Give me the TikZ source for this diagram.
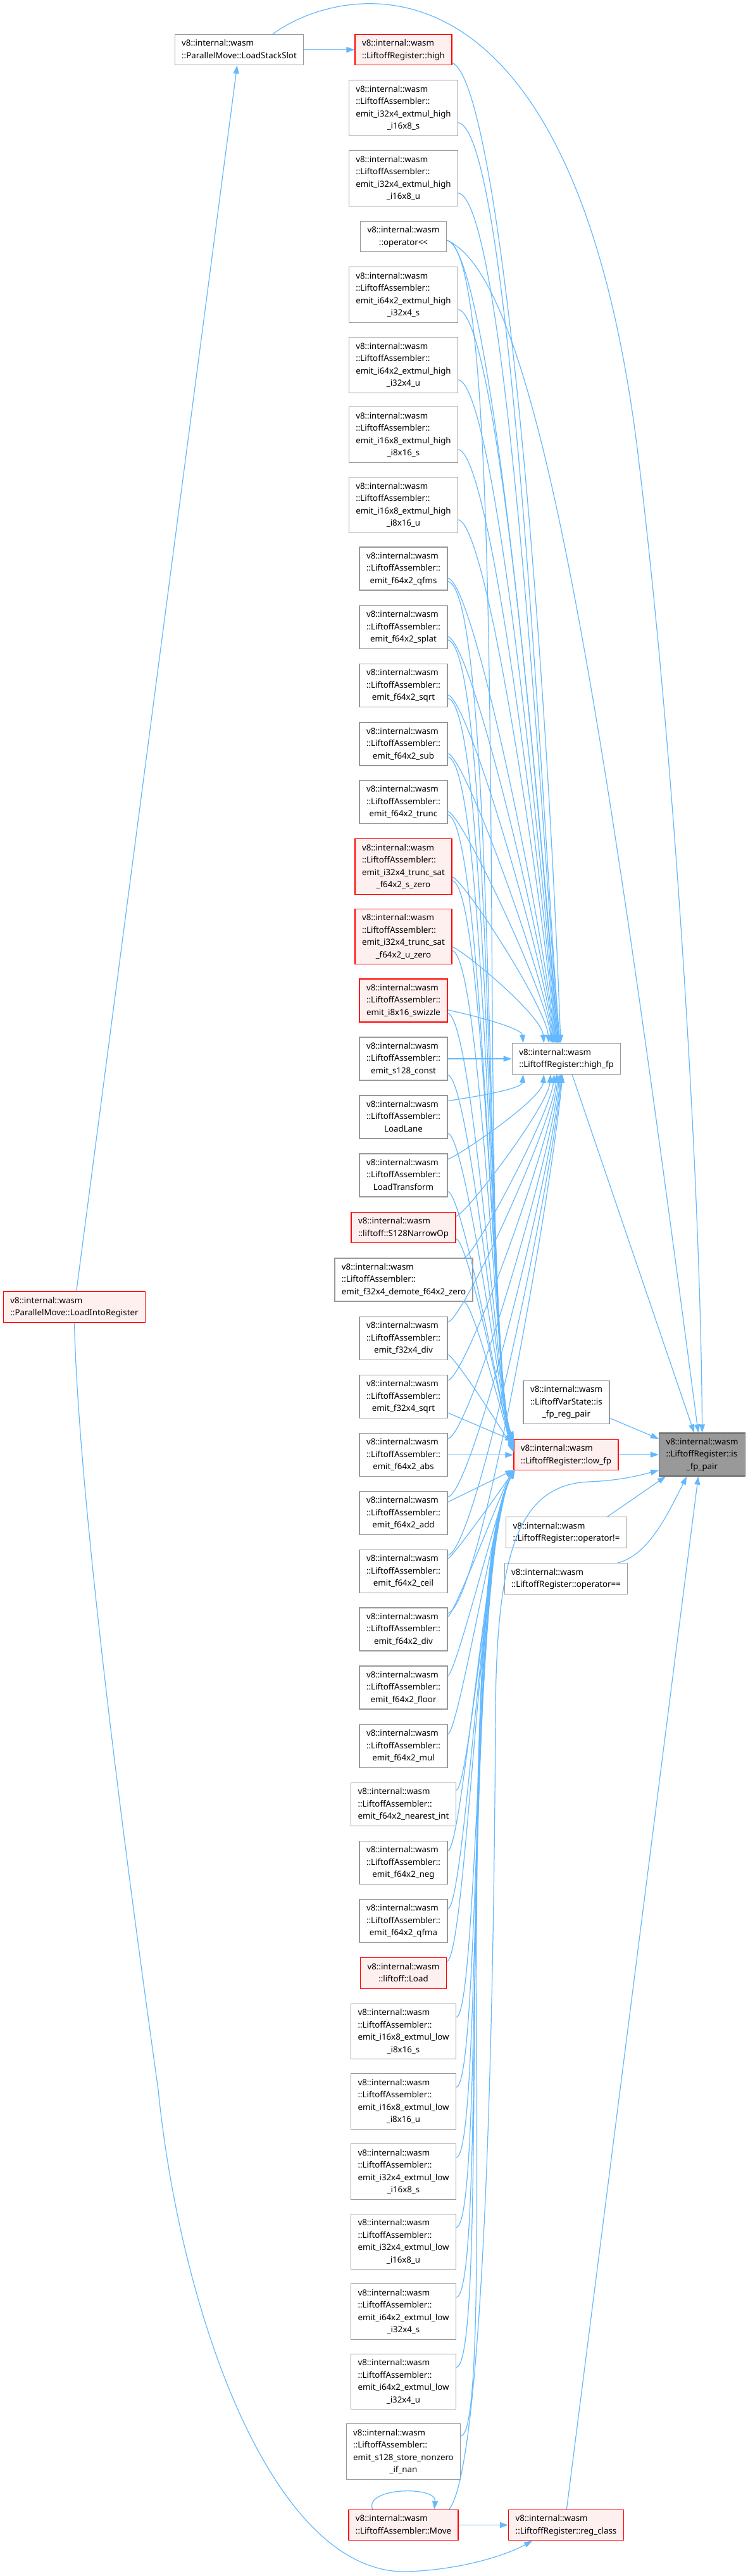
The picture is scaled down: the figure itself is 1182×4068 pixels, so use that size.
\documentclass[tikz,border=0pt]{standalone}
\usepackage{fontspec}
\setmainfont{Noto Sans}
\usepackage{xcolor}
\usepackage{tikz}
\usetikzlibrary{arrows.meta}
\definecolor{dxblue}{HTML}{63B8FF}
\definecolor{dxgray}{HTML}{999999}
\definecolor{dxdark}{HTML}{666666}
\definecolor{dxred}{HTML}{FF0000}
\definecolor{dxpink}{HTML}{FFF0F0}
\newcommand{\dxfont}{\fontsize{13.3}{19.5}\selectfont}
\newcommand{\fnl}[2]{\begin{tabular}{@{}l@{}}#1\\\multicolumn{1}{@{}c@{}}{#2}\end{tabular}}

\begin{document}
\begin{tikzpicture}[
  x=1pt, y=1pt,
  every node/.style={font=\dxfont},
  fn/.style={draw=dxgray, fill=white, line width=1.2pt, inner xsep=11pt, inner ysep=4.75pt},
  fnred/.style={fn, draw=dxred, fill=dxpink},
  fnroot/.style={fn, draw=dxdark, fill=dxgray},
  dep/.style={draw=dxblue, line width=1.2pt, -{Triangle[length=13pt, width=9pt]}},
  godown/.style={to path={.. controls +({0.3*#1},{-0.05*#1}) and +({-0.087*#1},{#1}) .. (\tikztotarget)}},
  godownl/.style={to path={.. controls +({0.63*#1},{-0.11*#1}) and +({-0.364*#1},{#1}) .. (\tikztotarget)}},
  goup/.style={to path={.. controls +({0.3*#1},{0.05*#1}) and +({-0.087*#1},{-#1}) .. (\tikztotarget)}},
  goupl/.style={to path={.. controls +({0.33*#1},{0.06*#1}) and +({-0.577*#1},{-#1}) .. (\tikztotarget)}}
]
  \useasboundingbox (0,0) rectangle (1182,-4068);

  % Colonna sinistra
  \node[fn] (lss) at (378,-78.5) {\fnl{v8::internal::wasm}{::ParallelMove::LoadStackSlot}};
  \node[fnred] (lir) at (117.5,-2064) {\fnl{v8::internal::wasm}{::ParallelMove::LoadIntoRegister}};

  % Chiamanti
  \node[fnred] (high) at (637.5,-78.5) {\fnl{v8::internal::wasm}{::LiftoffRegister::high}};
  \node[fn] (xhi32s) at (637.5,-170.5) {\fnl{v8::internal::wasm\\::LiftoffAssembler::\\emit\_i32x4\_extmul\_high}{\_i16x8\_s}};
  \node[fn] (xhi32u) at (637.5,-281.5) {\fnl{v8::internal::wasm\\::LiftoffAssembler::\\emit\_i32x4\_extmul\_high}{\_i16x8\_u}};
  \node[fn] (shl) at (637.5,-373.5) {\fnl{v8::internal::wasm}{::operator<{}<}};
  \node[fn] (xhi64s) at (637.5,-465.5) {\fnl{v8::internal::wasm\\::LiftoffAssembler::\\emit\_i64x2\_extmul\_high}{\_i32x4\_s}};
  \node[fn] (xhi64u) at (637.5,-576.5) {\fnl{v8::internal::wasm\\::LiftoffAssembler::\\emit\_i64x2\_extmul\_high}{\_i32x4\_u}};
  \node[fn] (xhi16s) at (637.5,-686.5) {\fnl{v8::internal::wasm\\::LiftoffAssembler::\\emit\_i16x8\_extmul\_high}{\_i8x16\_s}};
  \node[fn] (xhi16u) at (637.5,-797.5) {\fnl{v8::internal::wasm\\::LiftoffAssembler::\\emit\_i16x8\_extmul\_high}{\_i8x16\_u}};
  \node[fn] (qfms) at (637.5,-898) {\fnl{v8::internal::wasm\\::LiftoffAssembler::}{emit\_f64x2\_qfms}};
  \node[fn] (splat) at (637.5,-990.5) {\fnl{v8::internal::wasm\\::LiftoffAssembler::}{emit\_f64x2\_splat}};
  \node[fn] (sqrt) at (637.5,-1082.5) {\fnl{v8::internal::wasm\\::LiftoffAssembler::}{emit\_f64x2\_sqrt}};
  \node[fn] (sub) at (637.5,-1175) {\fnl{v8::internal::wasm\\::LiftoffAssembler::}{emit\_f64x2\_sub}};
  \node[fn] (trunc) at (637.5,-1266.5) {\fnl{v8::internal::wasm\\::LiftoffAssembler::}{emit\_f64x2\_trunc}};
  \node[fnred] (tsats) at (637.5,-1368.5) {\fnl{v8::internal::wasm\\::LiftoffAssembler::\\emit\_i32x4\_trunc\_sat}{\_f64x2\_s\_zero}};
  \node[fnred] (tsatu) at (637.5,-1479) {\fnl{v8::internal::wasm\\::LiftoffAssembler::\\emit\_i32x4\_trunc\_sat}{\_f64x2\_u\_zero}};
  \node[fnred] (swz) at (637.5,-1580) {\fnl{v8::internal::wasm\\::LiftoffAssembler::}{emit\_i8x16\_swizzle}};
  \node[fn] (s128c) at (637.5,-1672) {\fnl{v8::internal::wasm\\::LiftoffAssembler::}{emit\_s128\_const}};
  \node[fn] (lane) at (637.5,-1764) {\fnl{v8::internal::wasm\\::LiftoffAssembler::}{LoadLane}};
  \node[fn] (ltr) at (637.5,-1856) {\fnl{v8::internal::wasm\\::LiftoffAssembler::}{LoadTransform}};
  \node[fnred] (narrow) at (637.5,-1938.5) {\fnl{v8::internal::wasm}{::liftoff::S128NarrowOp}};
  \node[fn] (demote) at (638,-2021) {\fnl{v8::internal::wasm\\::LiftoffAssembler::}{emit\_f32x4\_demote\_f64x2\_zero}};
  \node[fn] (fdiv) at (637.5,-2113.5) {\fnl{v8::internal::wasm\\::LiftoffAssembler::}{emit\_f32x4\_div}};
  \node[fn] (fsqrt) at (637.5,-2205.5) {\fnl{v8::internal::wasm\\::LiftoffAssembler::}{emit\_f32x4\_sqrt}};
  \node[fn] (abs) at (637.5,-2297.5) {\fnl{v8::internal::wasm\\::LiftoffAssembler::}{emit\_f64x2\_abs}};
  \node[fn] (add) at (637.5,-2389.5) {\fnl{v8::internal::wasm\\::LiftoffAssembler::}{emit\_f64x2\_add}};
  \node[fn] (ceil) at (637.5,-2481.5) {\fnl{v8::internal::wasm\\::LiftoffAssembler::}{emit\_f64x2\_ceil}};
  \node[fn] (div) at (637.5,-2573) {\fnl{v8::internal::wasm\\::LiftoffAssembler::}{emit\_f64x2\_div}};
  \node[fn] (floor) at (637.5,-2665) {\fnl{v8::internal::wasm\\::LiftoffAssembler::}{emit\_f64x2\_floor}};
  \node[fn] (mul) at (637.5,-2757.5) {\fnl{v8::internal::wasm\\::LiftoffAssembler::}{emit\_f64x2\_mul}};
  \node[fn] (nint) at (637.5,-2849.5) {\fnl{v8::internal::wasm\\::LiftoffAssembler::}{emit\_f64x2\_nearest\_int}};
  \node[fn] (neg) at (637.5,-2941.5) {\fnl{v8::internal::wasm\\::LiftoffAssembler::}{emit\_f64x2\_neg}};
  \node[fn] (qfma) at (637.5,-3033.5) {\fnl{v8::internal::wasm\\::LiftoffAssembler::}{emit\_f64x2\_qfma}};
  \node[fnred] (load) at (637.5,-3116) {\fnl{v8::internal::wasm}{::liftoff::Load}};
  \node[fn] (xli16s) at (637.5,-3208) {\fnl{v8::internal::wasm\\::LiftoffAssembler::\\emit\_i16x8\_extmul\_low}{\_i8x16\_s}};
  \node[fn] (xli16u) at (637.5,-3318.5) {\fnl{v8::internal::wasm\\::LiftoffAssembler::\\emit\_i16x8\_extmul\_low}{\_i8x16\_u}};
  \node[fn] (xli32s) at (637.5,-3429.5) {\fnl{v8::internal::wasm\\::LiftoffAssembler::\\emit\_i32x4\_extmul\_low}{\_i16x8\_s}};
  \node[fn] (xli32u) at (637.5,-3540) {\fnl{v8::internal::wasm\\::LiftoffAssembler::\\emit\_i32x4\_extmul\_low}{\_i16x8\_u}};
  \node[fn] (xli64s) at (637.5,-3650.5) {\fnl{v8::internal::wasm\\::LiftoffAssembler::\\emit\_i64x2\_extmul\_low}{\_i32x4\_s}};
  \node[fn] (xli64u) at (637.5,-3761) {\fnl{v8::internal::wasm\\::LiftoffAssembler::\\emit\_i64x2\_extmul\_low}{\_i32x4\_u}};
  \node[fn] (store) at (637.5,-3871.5) {\fnl{v8::internal::wasm\\::LiftoffAssembler::\\emit\_s128\_store\_nonzero}{\_if\_nan}};
  \node[fnred] (move) at (637.5,-3987.5) {\fnl{v8::internal::wasm}{::LiftoffAssembler::Move}};

  % Colonna destra
  \node[fn] (highfp) at (895,-1672) {\fnl{v8::internal::wasm}{::LiftoffRegister::high\_fp}};
  \node[fn] (vsp) at (895,-2214.5) {\fnl{v8::internal::wasm\\::LiftoffVarState::is}{\_fp\_reg\_pair}};
  \node[fnred] (lowfp) at (894.5,-2297.5) {\fnl{v8::internal::wasm}{::LiftoffRegister::low\_fp}};
  \node[fn] (opne) at (895,-2420) {\fnl{v8::internal::wasm}{::LiftoffRegister::operator!=}};
  \node[fn] (opeq) at (894.5,-2493) {\fnl{v8::internal::wasm}{::LiftoffRegister::operator==}};
  \node[fnred] (regc) at (894.5,-3987.5) {\fnl{v8::internal::wasm}{::LiftoffRegister::reg\_class}};
  \node[fnroot] (fppair) at (1109.5,-2297) {\fnl{v8::internal::wasm\\::LiftoffRegister::is}{\_fp\_pair}};

  % Frecce in alto
  \draw[dep] (lss) -- (high);
  \draw[dep] (lir) -- (lss);
  \draw[dep] (lss.25) .. controls (530,20) and (900,120) .. (1006,-700) .. controls (1068,-1200) and (1108,-1900) .. (fppair.north);
  \draw[dep] (high.-15) .. controls (790,-130) and (862,-1000) .. (highfp.110);
  \draw[dep] (shl.-5) .. controls (850,-440) and (950,-1100) .. (fppair.100);

  % Verso high_fp dall'alto
  \draw[dep] (xhi32s.-15) to[godown=287] (highfp.112);
  \draw[dep] (xhi32u.-15) to[godown=263] (highfp.114);
  \draw[dep] (shl.-5) to[godown=250] (highfp.116);
  \draw[dep] (xhi64s.-15) to[godown=228] (highfp.118);
  \draw[dep] (xhi64u.-15) to[godown=207] (highfp.120);
  \draw[dep] (xhi16s.-15) to[godown=186] (highfp.122);
  \draw[dep] (xhi16u.-15) to[godown=165] (highfp.124);
  \draw[dep] (qfms.-12) to[godown=146] (highfp.126);
  \draw[dep] (splat.-12) to[godown=128] (highfp.128);
  \draw[dep] (sqrt.-12) to[godown=111] (highfp.130);
  \draw[dep] (sub.-12) to[godown=93] (highfp.132);
  \draw[dep] (trunc.-12) to[godown=76] (highfp.134);
  \draw[dep] (tsats.-12) to[godown=58] (highfp.138);
  \draw[dep] (tsatu.-12) to[godown=45] (highfp.145);
  \draw[dep] (swz.-12) to[godown=26] (highfp.160);
  \draw[dep] (s128c) -- (highfp);

  % Verso high_fp dal basso
  \draw[dep] (lane.20) to[goup=25] (highfp.200);
  \draw[dep] (ltr.20) to[goup=40] (highfp.215);
  \draw[dep] (narrow.12) to[goup=51] (highfp.225);
  \draw[dep] (demote.20) to[goup=59] (highfp.232);
  \draw[dep] (fdiv.20) to[goup=80] (highfp.238);
  \draw[dep] (fsqrt.20) to[goup=98] (highfp.242);
  \draw[dep] (abs.20) to[goup=118] (highfp.246);
  \draw[dep] (add.20) to[goup=135] (highfp.250);
  \draw[dep] (ceil.20) to[goup=153] (highfp.253);
  \draw[dep] (div.20) to[goup=171] (highfp.256);

  % Verso low_fp dall'alto
  \draw[dep] (shl.-5) to[godownl=174] (lowfp.164);
  \draw[dep] (qfms.-16) to[godownl=125] (lowfp.165);
  \draw[dep] (splat.-16) to[godownl=117] (lowfp.166);
  \draw[dep] (sqrt.-16) to[godownl=108] (lowfp.167);
  \draw[dep] (sub.-16) to[godownl=100] (lowfp.168);
  \draw[dep] (trunc.-16) to[godownl=91] (lowfp.169);
  \draw[dep] (tsats.-16) to[godownl=83] (lowfp.170);
  \draw[dep] (tsatu.-16) to[godownl=73] (lowfp.171);
  \draw[dep] (swz.-16) to[godownl=64] (lowfp.172);
  \draw[dep] (s128c.-20) to[godownl=55] (lowfp.173);
  \draw[dep] (lane.-20) to[godownl=47] (lowfp.174);
  \draw[dep] (ltr.-20) to[godownl=39] (lowfp.175);
  \draw[dep] (narrow.-12) to[godownl=33] (lowfp.176);
  \draw[dep] (demote.-20) to[godownl=25] (lowfp.177);
  \draw[dep] (fdiv.-20) to[godownl=17] (lowfp.177);
  \draw[dep] (fsqrt.-20) -- (lowfp.165);
  \draw[dep] (abs) -- (lowfp);

  % Verso low_fp dal basso
  \draw[dep] (add.14) -- (lowfp.196);
  \draw[dep] (ceil.16) to[goupl=21] (lowfp.196);
  \draw[dep] (div.16) to[goupl=30] (lowfp.196);
  \draw[dep] (floor.15) to[goupl=40] (lowfp.197);
  \draw[dep] (mul.15) to[goupl=51] (lowfp.197);
  \draw[dep] (nint.15) to[goupl=61] (lowfp.197);
  \draw[dep] (neg.15) to[goupl=72] (lowfp.197);
  \draw[dep] (qfma.15) to[goupl=83] (lowfp.197);
  \draw[dep] (load.15) to[goupl=92] (lowfp.197);
  \draw[dep] (xli16s.15) to[goupl=103] (lowfp.197);
  \draw[dep] (xli16u.15) to[goupl=116] (lowfp.197);
  \draw[dep] (xli32s.15) to[goupl=129] (lowfp.197);
  \draw[dep] (xli32u.15) to[goupl=142] (lowfp.197);
  \draw[dep] (xli64s.15) to[goupl=156] (lowfp.197);
  \draw[dep] (xli64u.15) to[goupl=169] (lowfp.197);
  \draw[dep] (store.15) to[goupl=182] (lowfp.197);

  % Verso is_fp_pair
  \draw[dep] (highfp.-70) -- (fppair.110);
  \draw[dep] (vsp.-20) -- (fppair.160);
  \draw[dep] (lowfp) -- (fppair);
  \draw[dep] (opne.21) -- (fppair.211);
  \draw[dep] (opeq.17) .. controls +(50,12) and +(-28,-55) .. (fppair.235);
  \draw[dep] (regc.88) -- (fppair.260);
  \draw[dep] (move.19) .. controls (760,-3900) and (780,-3300) .. (783,-2700) .. controls (785,-2450) and (820,-2345) .. (930,-2340) .. controls (980,-2338) and (1010,-2330) .. (fppair.200);

  % Move e reg_class
  \draw[dep] (move.153) .. controls (575,-3928) and (690,-3925) .. (move.27);
  \draw[dep] (move) -- (regc);
  \draw[dep] (lir.south) .. controls (125,-2400) and (215,-3050) .. (250,-3300) .. controls (285,-3650) and (430,-4066) .. (643,-4061) .. controls (730,-4058) and (800,-4035) .. (regc.205);

\end{tikzpicture}
\end{document}
